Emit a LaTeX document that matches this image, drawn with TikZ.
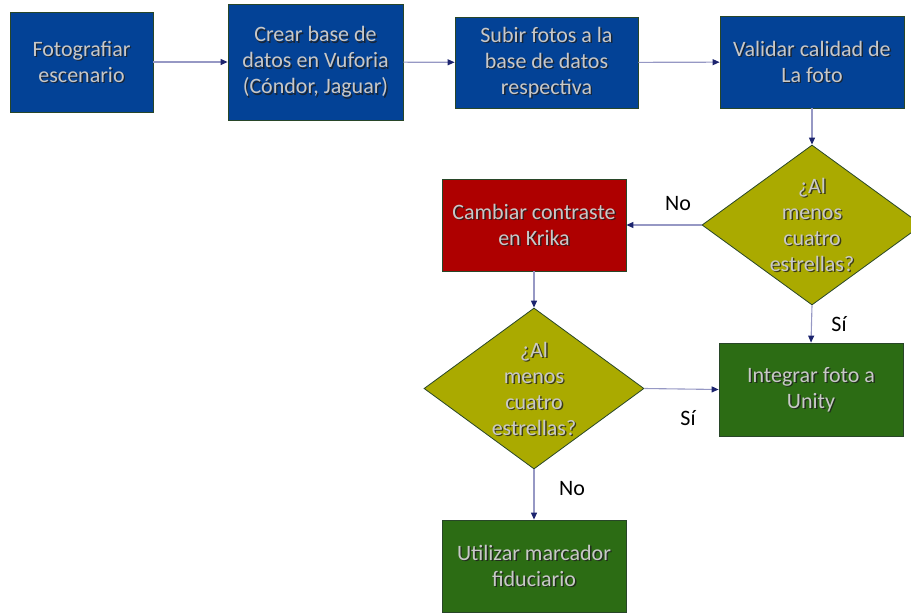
\documentclass[tikz,border=0pt]{standalone}
\usepackage{fontspec}
\setmainfont{Carlito}
\usetikzlibrary{shapes.geometric,arrows.meta}

\definecolor{boxblue}{RGB}{3,66,150}
\definecolor{boxred}{RGB}{174,0,0}
\definecolor{boxolive}{RGB}{170,170,0}
\definecolor{boxgreen}{RGB}{44,108,20}
\definecolor{edgeline}{RGB}{150,152,196}
\definecolor{tipnavy}{RGB}{28,36,110}
\definecolor{txtgrey}{RGB}{200,200,200}
\definecolor{txtshade}{RGB}{30,30,30}
\definecolor{frame}{RGB}{40,70,40}

\tikzset{
  shapebox/.style={draw=frame, line width=0.8pt, inner sep=0pt},
  procbox/.style={shapebox, rectangle},
  decision/.style={shapebox, diamond, fill=boxolive},
  boxtext/.style={align=center, inner sep=0pt, text=txtgrey,
    font=\fontsize{22}{26}\selectfont},
  boxshade/.style={boxtext, text=txtshade, opacity=0.8},
  flow/.style={draw=edgeline, line width=1.1pt,
    -{Triangle[length=7pt,width=6pt,color=tipnavy]}},
  answer/.style={font=\fontsize{22}{26}\selectfont, text=black, inner sep=0pt}
}

% text with a soft drop shadow, centred on a shape node
\newcommand\shadedtext[2]{%
  \node[boxshade] (#1-s) at ([shift={(1.4pt,-1.4pt)}]#1.center) {#2};
  \node[boxtext] (#1-t) at (#1.center) {#2};}

\begin{document}
\begin{tikzpicture}[x=1pt,y=-1pt]
\useasboundingbox (0,0) rectangle (911,613);

% process boxes of the top row
\node[procbox, fill=boxblue, minimum width=143pt, minimum height=100pt] (foto) at (81.5,62) {};
\node[procbox, fill=boxblue, minimum width=175pt, minimum height=116pt] (crear) at (315.5,62) {};
\node[procbox, fill=boxblue, minimum width=183pt, minimum height=91pt] (subir) at (546.5,62.5) {};
\node[procbox, fill=boxblue, minimum width=184pt, minimum height=92pt] (validar) at (812,62) {};

% first decision and its branches
\node[decision, minimum width=220pt, minimum height=160pt] (dec1) at (812,225) {};
\node[procbox, fill=boxred, minimum width=184pt, minimum height=92pt] (krika) at (534,225) {};
\node[procbox, fill=boxgreen, minimum width=184pt, minimum height=93pt] (unity) at (811,389.5) {};

% second decision and its fallback
\node[decision, minimum width=220pt, minimum height=161pt] (dec2) at (534,388.5) {};
\node[procbox, fill=boxgreen, minimum width=184pt, minimum height=92pt] (fiducial) at (534,566) {};

\shadedtext{foto}{Fotografiar\\escenario}
\shadedtext{crear}{Crear base de\\datos en Vuforia\\(Cóndor, Jaguar)}
\shadedtext{subir}{Subir fotos a la\\base de datos\\respectiva}
\shadedtext{validar}{Validar calidad de\\La foto}
\shadedtext{dec1}{¿Al\\menos\\cuatro\\estrellas?}
\shadedtext{krika}{Cambiar contraste\\en Krika}
\shadedtext{unity}{Integrar foto a\\Unity}
\shadedtext{dec2}{¿Al\\menos\\cuatro\\estrellas?}
\shadedtext{fiducial}{Utilizar marcador\\fiduciario}

% connectors
\draw[flow] (foto) -- (crear);
\draw[flow] (crear) -- (subir);
\draw[flow] (subir) -- (validar);
\draw[flow] (validar) -- (dec1);
\draw[flow] (dec1.west) -- (krika.east);
\draw[flow] (dec1.south) -- (unity.north);
\draw[flow] (krika) -- (dec2);
\draw[flow] (dec2.east) -- (unity.west);
\draw[flow] (dec2.south) -- (fiducial.north);

% branch labels
\node[answer] (no1) at (678,204) {No};
\node[answer] (si1) at (839,324) {Sí};
\node[answer] (si2) at (688,418) {Sí};
\node[answer] (no2) at (572,489) {No};
\end{tikzpicture}
\end{document}
